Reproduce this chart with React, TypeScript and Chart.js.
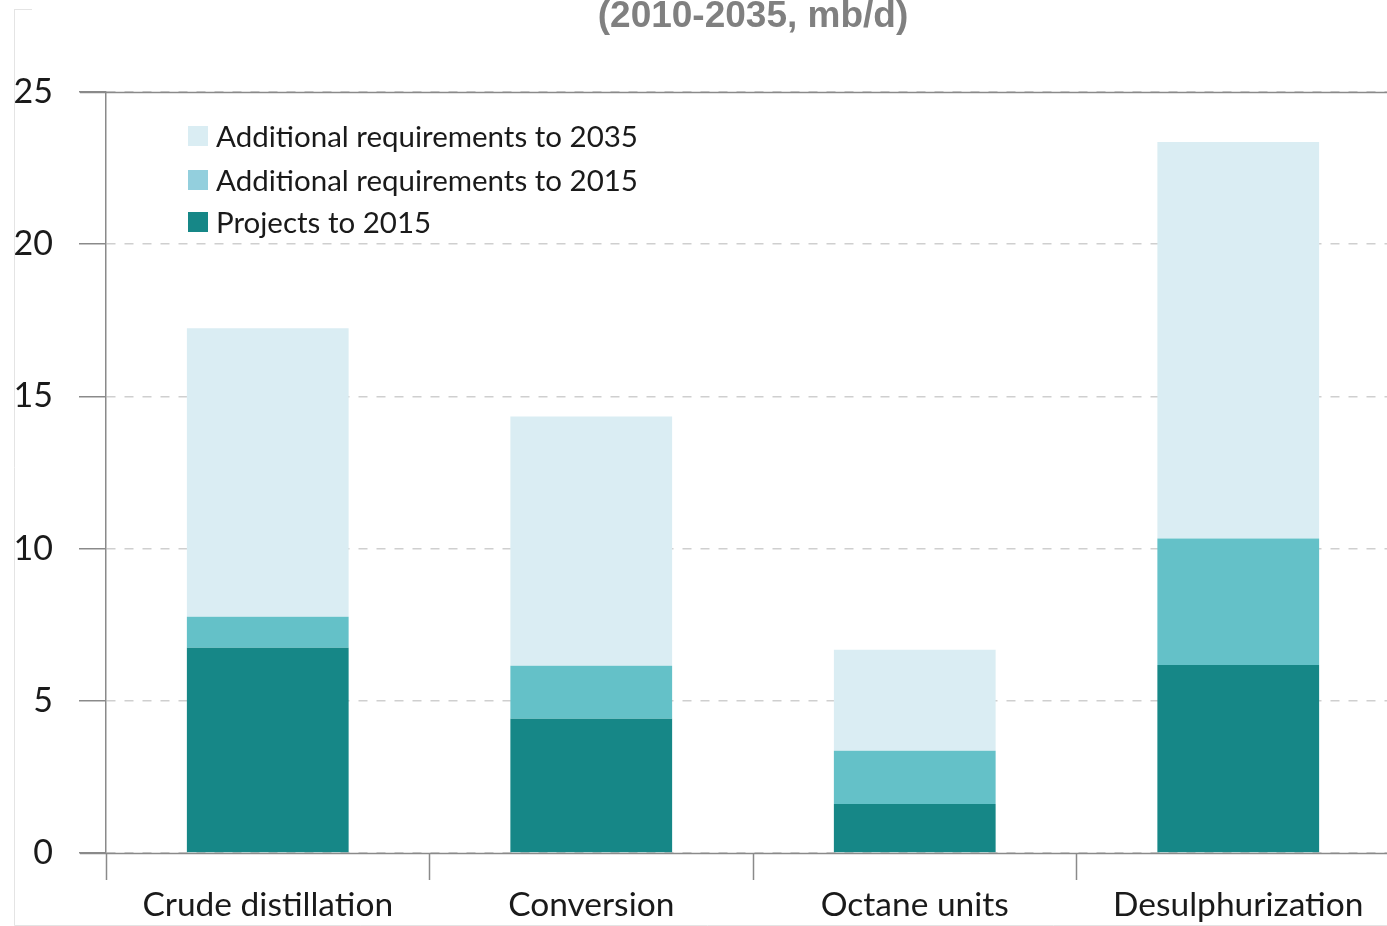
import React, { useEffect, useRef } from "react";
import { Chart, registerables } from "chart.js";

Chart.register(...registerables);

const categories = ["Crude distillation", "Conversion", "Octane units", "Desulphurization"];
const projectsTo2015 = [6.74, 4.41, 1.61, 6.18];
const additionalTo2015 = [1.02, 1.74, 1.75, 4.15];
const additionalTo2035 = [9.48, 8.19, 3.32, 13.03];
const seriesLabels = ["Projects to 2015", "Additional requirements to 2015", "Additional requirements to 2035"];
const barColors = ["#168787", "#64c1c8", "#daedf3"];
const legendColors = ["#168787", "#93cfdd", "#daedf3"];
const yTicks = [0, 5, 10, 15, 20, 25];
const titleText = "(2010-2035, mb/d)";

const FONT = "Lato";

const overlayPlugin = {
  id: "overlay",
  beforeDraw(chart: any) {
    const ctx = chart.ctx;
    ctx.save();
    ctx.fillStyle = "#ffffff";
    ctx.fillRect(0, 0, chart.width, chart.height);
    ctx.strokeStyle = "#e4e4e4";
    ctx.lineWidth = 1;
    ctx.beginPath();
    ctx.moveTo(14.5, 9);
    ctx.lineTo(14.5, 925.5);
    ctx.lineTo(chart.width, 925.5);
    ctx.moveTo(14, 9.5);
    ctx.lineTo(32, 9.5);
    ctx.stroke();
    ctx.restore();
  },
  afterDatasetsDraw(chart: any) {
    const ctx = chart.ctx;
    const area = chart.chartArea;
    const y = chart.scales.y;
    ctx.save();
    ctx.strokeStyle = "#8a8a8a";
    ctx.lineWidth = 1.5;
    [0, 25].forEach((v) => {
      const py = Math.round(y.getPixelForValue(v)) + 0.5;
      ctx.beginPath();
      ctx.moveTo(80, py);
      ctx.lineTo(area.right, py);
      ctx.stroke();
    });
    ctx.fillStyle = "#808080";
    ctx.font = "bold 37px 'Liberation Sans', Arial, sans-serif";
    ctx.textAlign = "center";
    ctx.textBaseline = "alphabetic";
    ctx.fillText(titleText, (area.left + area.right) / 2, 27);
    const order = [2, 1, 0];
    const rows = [136, 180, 222];
    ctx.font = `29.5px ${FONT}`;
    ctx.textAlign = "left";
    ctx.textBaseline = "middle";
    order.forEach((di, i) => {
      const ds = chart.data.datasets[di];
      ctx.fillStyle = legendColors[di];
      ctx.fillRect(188, rows[i] - 10, 20, 20);
      ctx.fillStyle = "#1a1a1a";
      ctx.fillText(ds.label, 216, rows[i] + 1);
    });
    ctx.restore();
  },
};

export default function App() {
  const ref = useRef<HTMLCanvasElement>(null);
  useEffect(() => {
    if (!ref.current) return;
    const datasets = [projectsTo2015, additionalTo2015, additionalTo2035].map((d, i) => ({
      label: seriesLabels[i],
      data: d,
      backgroundColor: barColors[i],
      borderWidth: 0,
      categoryPercentage: 1,
      barPercentage: 0.5,
    }));
    const chart = new Chart(ref.current, {
      type: "bar",
      data: { labels: categories, datasets },
      plugins: [overlayPlugin],
      options: {
        animation: false,
        responsive: false,
        layout: { padding: { top: 92, left: 0, right: 0, bottom: 0 } },
        plugins: { legend: { display: false }, title: { display: false }, tooltip: { enabled: false } },
        scales: {
          x: {
            stacked: true,
            offset: true,
            afterFit: (s: any) => {
              s.height = 73;
            },
            grid: {
              offset: true,
              drawOnChartArea: false,
              drawTicks: true,
              tickLength: 27,
              tickColor: "#8a8a8a",
              tickWidth: 1.5,
            },
            border: { display: false },
            ticks: {
              color: "#1a1a1a",
              font: { family: FONT, size: 33.5 },
              padding: 5,
              maxRotation: 0,
              autoSkip: false,
            },
          },
          y: {
            stacked: true,
            min: 0,
            max: 25,
            afterFit: (s: any) => {
              s.width = 106;
            },
            afterBuildTicks: (s: any) => {
              s.ticks = yTicks.map((v) => ({ value: v }));
            },
            grid: {
              color: "#cfcfcf",
              lineWidth: 1.5,
              drawTicks: true,
              tickLength: 27,
              tickColor: "#8a8a8a",
              tickWidth: 1.5,
              tickBorderDash: [],
            },
            border: { display: true, color: "#8a8a8a", width: 1.5, dash: [9, 9] },
            ticks: {
              color: "#1a1a1a",
              font: { family: FONT, size: 34 },
              padding: 26,
            },
          },
        },
      } as any,
    });
    return () => chart.destroy();
  }, []);
  return (
    <div style={{ position: "fixed", left: 0, top: 0, width: 1387, height: 926, overflow: "hidden", background: "#fff" }}>
      <canvas ref={ref} width={1400} height={926} style={{ display: "block", width: 1400, height: 926 }} />
    </div>
  );
}
